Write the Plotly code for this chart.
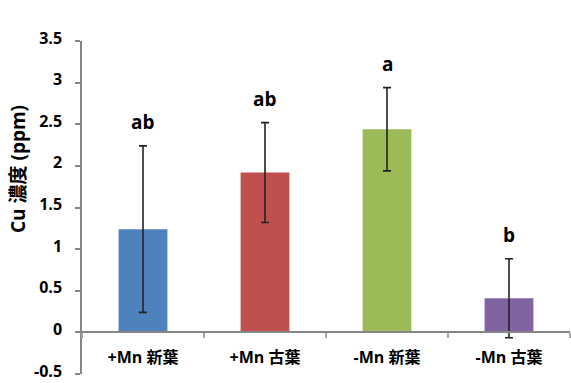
import plotly.graph_objects as go

# Cu concentration by treatment and leaf age
categories = ["+Mn 新葉", "+Mn 古葉", "-Mn 新葉", "-Mn 古葉"]
cu_ppm = [1.24, 1.92, 2.44, 0.41]
cu_err = [1.0, 0.6, 0.5, 0.475]
sig_letters = ["ab", "ab", "a", "b"]
bar_colors = ["#4F81BD", "#C0504D", "#9BBB59", "#8064A2"]

y_ticks = [-0.5, 0, 0.5, 1, 1.5, 2, 2.5, 3, 3.5]
y_tick_text = ["-0.5", "0", "0.5", "1", "1.5", "2", "2.5", "3", "3.5"]

FONT = "Open Sans, Noto Sans CJK JP, sans-serif"
W, H = 571, 383
ML, MR, MT, MB = 82, 1, 41, 9
Y_MIN, Y_MAX = -0.5, 3.5

fig = go.Figure()
fig.add_trace(go.Bar(
    x=categories,
    y=cu_ppm,
    marker=dict(color=bar_colors, line=dict(width=0)),
    error_y=dict(type="data", array=cu_err, visible=True,
                 color="#222222", thickness=1.6, width=4),
    showlegend=False,
))

# significance letters above each error bar
for cat, v, e, s in zip(categories, cu_ppm, cu_err, sig_letters):
    fig.add_annotation(x=cat, y=v + e, text=s, showarrow=False,
                       yanchor="bottom", yshift=9,
                       font=dict(family=FONT, size=19, color="#000000",
                                 weight="bold"))

# rotated y-axis title
plot_h = H - MT - MB
fig.add_annotation(xref="paper", yref="paper",
                   x=(18 - ML) / (W - ML - MR), y=(H - MB - 169) / plot_h,
                   xanchor="center", yanchor="middle",
                   text="Cu 濃度 (ppm)", textangle=-90, showarrow=False,
                   font=dict(family=FONT, size=19, color="#000000",
                             weight="bold"))

fig.update_layout(
    width=W, height=H,
    margin=dict(l=ML, r=MR, t=MT, b=MB, autoexpand=False),
    paper_bgcolor="white", plot_bgcolor="white",
    bargap=0.6,
    font=dict(family=FONT, size=15, color="#000000"),
    xaxis=dict(
        type="category",
        anchor="free",
        position=(0 - Y_MIN) / (Y_MAX - Y_MIN),
        automargin=False,
        showline=True, linecolor="#868686", linewidth=1.5,
        ticks="outside", tickson="boundaries", ticklen=5,
        tickcolor="#A6A6A6", tickwidth=1.5,
        tickfont=dict(family=FONT, size=16, color="#000000", weight="bold"),
        ticklabelstandoff=11,
        showgrid=False,
    ),
    yaxis=dict(
        range=[Y_MIN, Y_MAX],
        automargin=False,
        tickvals=y_ticks, ticktext=y_tick_text,
        showline=True, linecolor="#868686", linewidth=1.5,
        ticks="outside", ticklen=5, tickcolor="#868686", tickwidth=1.5,
        tickfont=dict(family=FONT, size=16, color="#000000", weight="bold"),
        ticklabelstandoff=10,
        ticklabelshift=-3,
        ticklabeloverflow="allow",
        showgrid=False, zeroline=False,
    ),
)

fig.write_html("out.html")
